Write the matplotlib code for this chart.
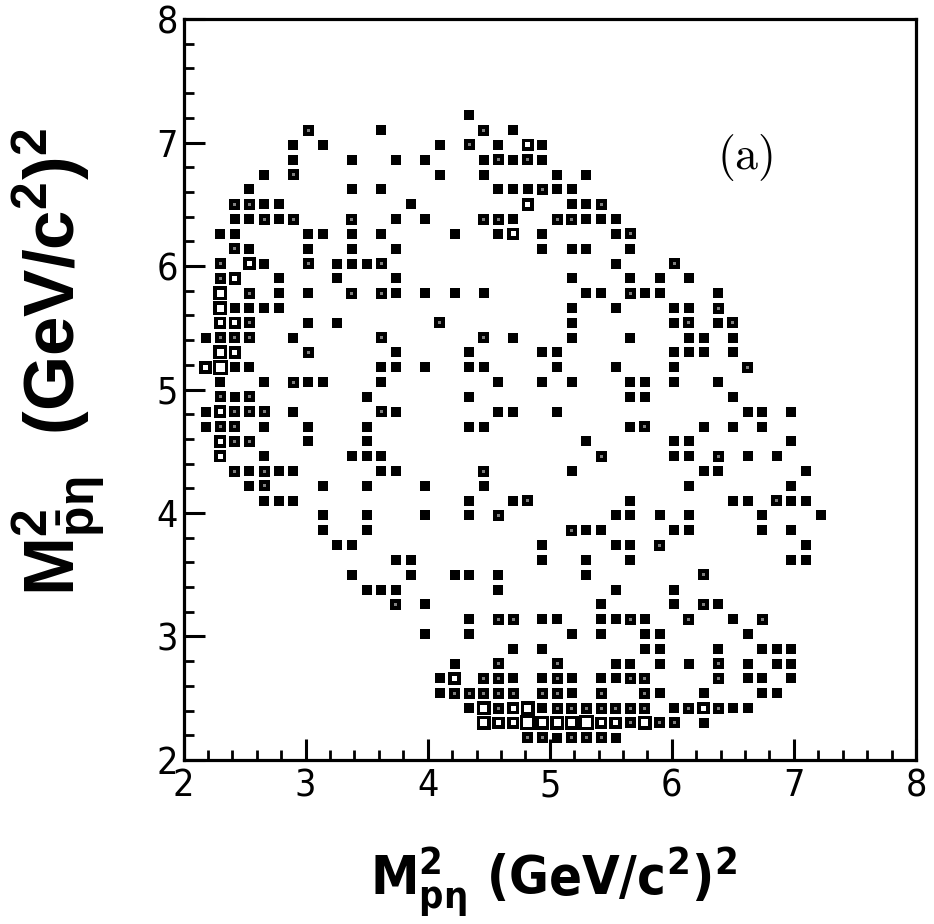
import numpy as np
import matplotlib
matplotlib.use("Agg")
from matplotlib import pyplot as plt
from matplotlib import font_manager
from matplotlib.ticker import MultipleLocator

# bin centres of the y axis (M^2 pbar-eta), one entry per row of the histogram
rows_y = [7.22, 7.10, 6.98, 6.86, 6.74, 6.62, 6.50, 6.38, 6.26, 6.14, 6.02,
          5.90, 5.78, 5.66, 5.54, 5.42, 5.30, 5.18, 5.06, 4.94, 4.82, 4.70,
          4.58, 4.46, 4.34, 4.22, 4.10, 3.98, 3.86, 3.74, 3.62, 3.50, 3.38,
          3.26, 3.14, 3.02, 2.90, 2.78, 2.66, 2.54, 2.42, 2.30, 2.18]

# bin centres of the x axis (M^2 p-eta) that are filled in each row
rows_x = [
    [4.34],
    [3.02, 3.62, 4.46, 4.70],
    [2.90, 3.14, 4.10, 4.34, 4.58, 4.82, 4.94],
    [2.90, 3.38, 3.74, 3.98, 4.46, 4.58, 4.70, 4.82, 4.94],
    [2.66, 2.90, 4.10, 4.46, 5.06, 5.30],
    [2.54, 3.38, 3.62, 4.58, 4.70, 4.82, 4.94, 5.06, 5.18],
    [2.42, 2.54, 2.66, 2.78, 3.86, 4.82, 5.18, 5.30, 5.42],
    [2.42, 2.54, 2.66, 2.78, 2.90, 3.38, 3.74, 3.98, 4.46, 4.58, 4.70, 5.06, 5.18, 5.30, 5.42, 5.54],
    [2.30, 2.42, 3.02, 3.14, 3.38, 3.62, 4.22, 4.58, 4.70, 4.94, 5.54, 5.66],
    [2.42, 2.54, 3.02, 3.38, 3.74, 4.94, 5.18, 5.30, 5.66],
    [2.30, 2.54, 2.66, 3.02, 3.26, 3.38, 3.50, 3.62, 5.54, 6.02],
    [2.30, 2.42, 2.78, 3.26, 3.74, 5.18, 5.66, 5.90, 6.14],
    [2.30, 2.54, 2.78, 3.02, 3.38, 3.62, 3.74, 3.98, 4.22, 4.46, 5.30, 5.42, 5.66, 5.78, 5.90, 6.38],
    [2.30, 2.42, 2.54, 2.66, 2.78, 5.18, 5.54, 6.02, 6.14, 6.38],
    [2.30, 2.42, 2.54, 3.02, 3.26, 4.10, 5.18, 6.02, 6.14, 6.38, 6.50],
    [2.18, 2.30, 2.42, 2.54, 2.90, 3.62, 4.46, 4.70, 5.18, 5.66, 6.14, 6.26, 6.50],
    [2.30, 2.42, 3.02, 3.74, 4.34, 4.94, 5.06, 6.02, 6.14, 6.26, 6.50],
    [2.18, 2.30, 2.42, 2.54, 3.62, 3.74, 3.98, 4.34, 4.46, 5.06, 5.54, 6.02, 6.62],
    [2.30, 2.66, 2.90, 3.02, 3.14, 3.62, 4.58, 4.94, 5.18, 5.66, 5.78, 6.02, 6.38],
    [2.30, 2.42, 2.54, 3.50, 4.34, 5.66, 5.78, 6.50],
    [2.18, 2.30, 2.42, 2.54, 2.66, 2.90, 3.62, 3.74, 4.58, 4.70, 5.06, 6.62, 6.74, 6.98],
    [2.18, 2.30, 2.42, 2.66, 3.02, 3.50, 4.34, 4.46, 5.66, 5.78, 6.26, 6.50, 6.74],
    [2.30, 2.42, 2.54, 3.02, 3.50, 5.30, 6.02, 6.14, 6.98],
    [2.30, 2.66, 3.38, 3.50, 3.62, 5.42, 6.02, 6.14, 6.38, 6.62, 6.86],
    [2.42, 2.54, 2.66, 2.78, 2.90, 3.62, 3.74, 4.46, 5.18, 6.26, 6.38, 7.10],
    [2.54, 2.66, 3.14, 3.50, 3.98, 4.46, 6.14, 6.98],
    [2.66, 2.78, 2.90, 4.34, 4.70, 4.82, 5.66, 6.50, 6.62, 6.86, 6.98, 7.10],
    [3.14, 3.50, 3.98, 4.34, 4.58, 5.54, 5.66, 5.90, 6.14, 6.74, 7.22],
    [3.14, 3.50, 5.18, 5.30, 5.42, 6.02, 6.14, 6.74, 6.98],
    [3.26, 3.38, 4.94, 5.54, 5.66, 5.90, 7.10],
    [3.74, 3.86, 4.94, 5.30, 5.66, 6.98, 7.10],
    [3.38, 3.86, 4.22, 4.34, 4.58, 5.30, 6.26],
    [3.50, 3.62, 3.74, 4.58, 5.54, 6.02],
    [3.74, 3.98, 5.42, 6.02, 6.26, 6.38],
    [4.34, 4.58, 4.70, 4.94, 5.06, 5.42, 5.54, 5.66, 5.78, 6.14, 6.50, 6.74],
    [3.98, 4.34, 5.18, 5.42, 5.78, 5.90, 6.62],
    [4.70, 4.94, 5.78, 5.90, 6.38, 6.74, 6.86, 6.98],
    [4.22, 4.58, 5.06, 5.54, 5.66, 5.90, 6.14, 6.38, 6.62, 6.86, 6.98],
    [4.10, 4.22, 4.46, 4.58, 4.70, 4.94, 5.06, 5.18, 5.42, 5.54, 5.66, 5.78, 6.38, 6.62, 6.74, 6.98],
    [4.10, 4.22, 4.34, 4.46, 4.58, 4.70, 4.94, 5.06, 5.18, 5.42, 5.78, 5.90, 6.26, 6.74, 6.86],
    [4.34, 4.46, 4.58, 4.70, 4.82, 4.94, 5.06, 5.18, 5.30, 5.42, 5.54, 5.66, 5.78, 6.02, 6.14, 6.26, 6.38, 6.50, 6.62],
    [4.46, 4.58, 4.70, 4.82, 4.94, 5.06, 5.18, 5.30, 5.42, 5.54, 5.66, 5.78, 5.90, 6.02, 6.26],
    [4.82, 4.94, 5.06, 5.18, 5.30, 5.42, 5.54],
]

# entries per bin, same layout as rows_x
rows_n = [
    [1],
    [2, 1, 2, 1],
    [1, 1, 1, 2, 1, 3, 1],
    [1, 1, 1, 1, 1, 2, 1, 2, 1],
    [1, 2, 1, 1, 1, 1],
    [1, 1, 1, 1, 1, 1, 2, 1, 1],
    [2, 2, 1, 1, 1, 3, 1, 1, 2],
    [1, 1, 2, 1, 2, 2, 1, 1, 2, 2, 1, 2, 2, 1, 1, 1],
    [1, 1, 1, 1, 1, 1, 1, 1, 3, 1, 1, 2],
    [2, 1, 1, 1, 1, 1, 1, 1, 1],
    [2, 3, 1, 2, 1, 1, 1, 2, 1, 2],
    [2, 3, 1, 1, 1, 1, 1, 1, 1],
    [4, 2, 1, 1, 2, 2, 1, 1, 1, 1, 1, 1, 2, 1, 1, 1],
    [4, 1, 1, 1, 1, 1, 1, 1, 1, 2],
    [3, 3, 2, 1, 1, 2, 1, 1, 2, 1, 2],
    [1, 2, 2, 2, 1, 2, 2, 1, 1, 1, 1, 1, 1],
    [4, 3, 2, 1, 1, 1, 1, 1, 1, 1, 1],
    [3, 5, 1, 1, 1, 1, 1, 1, 1, 1, 1, 1, 2],
    [1, 1, 2, 1, 1, 1, 1, 1, 1, 1, 1, 1, 1],
    [2, 1, 2, 1, 1, 1, 1, 1],
    [1, 3, 2, 2, 2, 1, 2, 1, 1, 1, 1, 1, 1, 1],
    [1, 2, 2, 1, 1, 1, 1, 1, 1, 2, 1, 1, 1],
    [3, 2, 2, 1, 1, 1, 1, 1, 1],
    [3, 1, 1, 1, 1, 2, 1, 1, 2, 1, 1],
    [2, 1, 2, 1, 1, 1, 1, 2, 1, 1, 1, 1],
    [1, 2, 1, 1, 1, 1, 1, 1],
    [1, 1, 1, 1, 1, 2, 1, 1, 1, 2, 1, 1],
    [1, 1, 1, 1, 2, 1, 1, 1, 1, 1, 1],
    [1, 1, 2, 1, 1, 1, 1, 1, 1],
    [1, 1, 1, 1, 1, 2, 1],
    [1, 1, 1, 1, 1, 1, 1],
    [1, 1, 1, 1, 1, 1, 2],
    [1, 1, 1, 1, 1, 1],
    [2, 1, 1, 1, 2, 1],
    [1, 2, 2, 1, 1, 1, 1, 2, 1, 2, 1, 2],
    [1, 1, 1, 1, 1, 1, 1],
    [1, 1, 1, 1, 1, 1, 1, 1],
    [1, 2, 2, 1, 1, 1, 1, 2, 1, 1, 1],
    [1, 3, 2, 2, 1, 1, 2, 1, 1, 1, 2, 2, 2, 1, 1, 1],
    [1, 2, 2, 2, 2, 2, 2, 2, 1, 2, 2, 1, 1, 1, 1],
    [1, 4, 2, 3, 4, 1, 2, 2, 2, 2, 2, 2, 2, 1, 2, 3, 2, 1, 1],
    [4, 3, 3, 5, 4, 4, 4, 5, 3, 3, 2, 4, 2, 2, 1],
    [2, 2, 1, 2, 2, 2, 1],
]

x_ticks = [2, 3, 4, 5, 6, 7, 8]
y_ticks = [2, 3, 4, 5, 6, 7, 8]

# box look per bin content (outer side, inner side in pixels, inner colour)
box_outer = {1: 10.0, 2: 11.0, 3: 12.5, 4: 14.0, 5: 15.0}
box_inner = {1: 0.0, 2: 3.0, 3: 5.0, 4: 7.0, 5: 9.0}
box_fill = {1: "black", 2: "#808080", 3: "white", 4: "white", 5: "white"}

# on met tout a plat
xs, ys, ns = [], [], []
for y, row_x, row_n in zip(rows_y, rows_x, rows_n):
    for x, n in zip(row_x, row_n):
        xs.append(x)
        ys.append(y)
        ns.append(n)
xs = np.array(xs)
ys = np.array(ys)
ns = np.array(ns)

DPI = 100
px2pt = 72.0 / DPI

# police etroite si on la trouve (sinon DejaVu normale)
names = {f.name for f in font_manager.fontManager.ttflist}
cond_files = [f.fname for f in font_manager.fontManager.ttflist
              if "Condensed" in f.fname and "DejaVuSans" in f.fname]
if "Liberation Sans Narrow" in names:
    tick_font = dict(family="Liberation Sans Narrow")
    lab_font = dict(family="Liberation Sans Narrow")
    tick_size, lab_size = 28, 44
elif cond_files:
    tick_font = dict(family="DejaVu Sans", stretch="condensed")
    lab_font = dict(family="DejaVu Sans", stretch="condensed")
    tick_size, lab_size = 27, 39
else:
    tick_font = dict(family="Liberation Sans")
    lab_font = dict(family="Liberation Sans")
    tick_size, lab_size = 25, 37

fig = plt.figure(figsize=(9.34, 9.24), dpi=DPI)
ax = fig.add_axes([0.1965, 0.1775, 0.7842, 0.8019])

outer = np.array([box_outer[n] for n in ns]) * px2pt
inner = np.array([box_inner[n] for n in ns]) * px2pt
fill = [box_fill[n] for n in ns]
ax.scatter(xs, ys, s=outer ** 2, marker="s", c="black", linewidths=0, zorder=3)
ax.scatter(xs, ys, s=inner ** 2, marker="s", c=fill, linewidths=0, zorder=4)

ax.set_xlim(2, 8)
ax.set_ylim(2, 8)
ax.set_xticks(x_ticks)
ax.set_yticks(y_ticks)
ax.xaxis.set_minor_locator(MultipleLocator(0.2))
ax.yaxis.set_minor_locator(MultipleLocator(0.2))
ax.tick_params(which="major", direction="in", length=15, width=2.2,
               top=False, right=False, labelsize=tick_size, pad=6)
ax.tick_params(which="minor", direction="in", length=7.5, width=2.0,
               top=False, right=False)
ax.tick_params(axis="y", pad=4)
for lab in ax.get_xticklabels() + ax.get_yticklabels():
    lab.set(**tick_font)
for sp in ax.spines.values():
    sp.set_linewidth(2.3)

# titres des axes
fig.text(0.593, 0.031,
         r"$\mathregular{M}^{\mathregular{2}}_{\mathregular{p\eta}}$ (GeV/c$^{\mathregular{2}}$)$^{\mathregular{2}}$",
         ha="center", va="baseline", fontsize=lab_size, fontweight="bold", **lab_font)
fig.text(0.063, 0.608,
         r"$\mathregular{M}^{\mathregular{2}}_{\mathregular{\bar{p}\eta}}$  (GeV/c$^{\mathregular{2}}$)$^{\mathregular{2}}$",
         ha="center", va="center", rotation=90, fontsize=51, fontweight="bold",
         family="Liberation Sans")

ax.text(6.60, 6.88, r"$(\mathrm{a})$", ha="center", va="center", fontsize=33,
        math_fontfamily="cm")

fig.savefig("out.png", dpi=DPI)
